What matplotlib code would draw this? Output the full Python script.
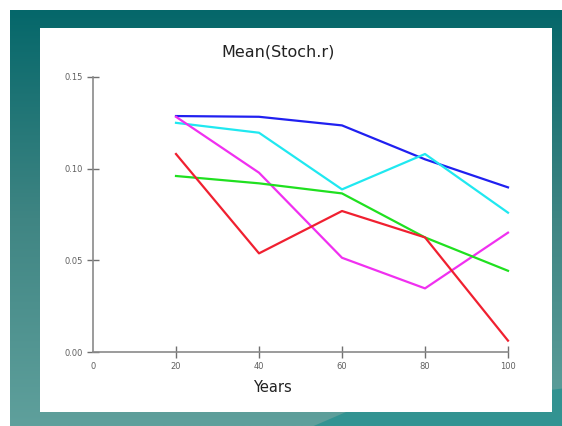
import numpy as np
import matplotlib.pyplot as plt
from matplotlib.colors import LinearSegmentedColormap
from matplotlib.patches import Rectangle, Polygon

# Data
years = [20, 40, 60, 80, 100]
blue = [0.1287, 0.1283, 0.1236, 0.1051, 0.0898]
cyan = [0.1250, 0.1196, 0.0887, 0.1080, 0.0760]
magenta = [0.1283, 0.0978, 0.0514, 0.0347, 0.0651]
green = [0.0960, 0.0920, 0.0865, 0.0625, 0.0443]
red = [0.1080, 0.0538, 0.0769, 0.0625, 0.0062]

x_ticks = [0, 20, 40, 60, 80, 100]
y_ticks = [0.00, 0.05, 0.10, 0.15]
y_ticklabels = ['0.00', '0.05', '0.10', '0.15']

W, H = 562, 426
fig = plt.figure(figsize=(W / 100, H / 100), dpi=100)
fig.patch.set_facecolor('white')

# teal slide background
bg = fig.add_axes([10 / W, 0, (W - 10) / W, (H - 10) / H])
bg.set_axis_off()
cmap = LinearSegmentedColormap.from_list('teal', ['#05676a', '#3f8583', '#5fa09c'])
grad = np.linspace(0, 1, 256).reshape(-1, 1)
bg.imshow(grad, aspect='auto', cmap=cmap, extent=[0, 1, 0, 1], origin='upper')
bg.add_patch(Polygon([[0.55, 0], [0.62, 0.04], [0.75, 0.05], [1, 0.09], [1, 0]],
                     closed=True, facecolor='#168c8c', edgecolor='none', alpha=0.6))
bg.set_xlim(0, 1)
bg.set_ylim(0, 1)

# white panel
fig.patches.append(Rectangle((40 / W, (H - 412) / H), 512 / W, 384 / H,
                             transform=fig.transFigure, facecolor='white',
                             edgecolor='none', zorder=1))

ax = fig.add_axes([93 / W, (H - 352) / H, 415 / W, 275 / H])
ax.set_facecolor('none')
ax.set_zorder(2)

for vals, c in [(blue, '#2020f0'), (cyan, '#20e8f0'), (magenta, '#f030f0'),
                (green, '#20e020'), (red, '#f02030')]:
    ax.plot(years, vals, color=c, lw=1.6, clip_on=False)

ax.set_xlim(0, 100)
ax.set_ylim(0, 0.15)
for s in ['top', 'right']:
    ax.spines[s].set_visible(False)
for s in ['left', 'bottom']:
    ax.spines[s].set_color('#8a8a8a')
    ax.spines[s].set_linewidth(1.2)

ax.set_xticks(x_ticks)
ax.set_xticklabels([str(v) for v in x_ticks])
ax.set_yticks(y_ticks)
ax.set_yticklabels(y_ticklabels)
ax.tick_params(direction='inout', length=8, width=1, color='#707070',
               labelsize=6, labelcolor='#606060', pad=3)
ax.xaxis.get_major_ticks()[0].tick1line.set_visible(False)

fig.text(278 / W, 1 - 52 / H, 'Mean(Stoch.r)', ha='center', va='center',
         fontsize=11.5, color='#222222')
fig.text(272 / W, 1 - 388 / H, 'Years', ha='center', va='center',
         fontsize=10.5, color='#222222')

fig.savefig('out.png', dpi=100)
